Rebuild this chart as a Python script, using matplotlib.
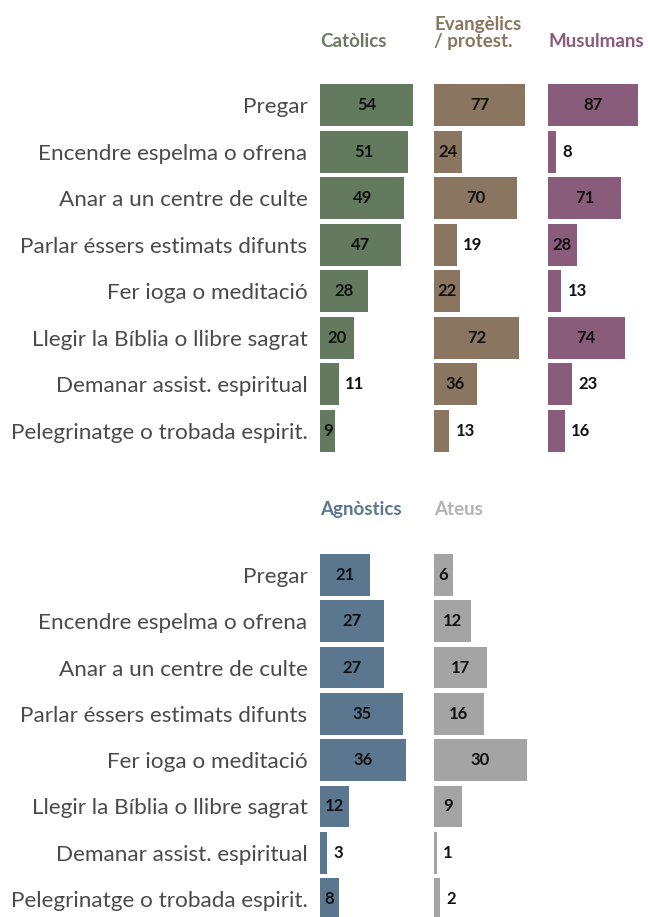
import matplotlib
matplotlib.use("Agg")
import matplotlib.pyplot as plt

# Activitats espirituals per grup (%)
activitats = [
    "Pregar",
    "Encendre espelma o ofrena",
    "Anar a un centre de culte",
    "Parlar éssers estimats difunts",
    "Fer ioga o meditació",
    "Llegir la Bíblia o llibre sagrat",
    "Demanar assist. espiritual",
    "Pelegrinatge o trobada espirit.",
]
catolics = [54, 51, 49, 47, 28, 20, 11, 9]
evangelics = [77, 24, 70, 19, 22, 72, 36, 13]
musulmans = [87, 8, 71, 28, 13, 74, 23, 16]
agnostics = [21, 27, 27, 35, 36, 12, 3, 8]
ateus = [6, 12, 17, 16, 30, 9, 1, 2]

grups = ["Catòlics", "Evangèlics\n/ protest.", "Musulmans", "Agnòstics", "Ateus"]

BAR_COLORS = ["#637a5f", "#8a7560", "#8a5c7c", "#5b7790", "#a4a4a4"]
HEAD_COLORS = ["#6b7a63", "#8a7560", "#8a5c7c", "#5b7790", "#b3b3b3"]
LABEL_COLOR = "#4a4a4a"

plt.rcParams["font.family"] = ["Lato", "DejaVu Sans"]

W, H = 648, 917
fig = plt.figure(figsize=(W / 100, H / 100), dpi=100)

PANEL_W = 100
# (left px, top px, bottom px, xlim max) per panel; each panel has its own scale
panels = [
    (320, 81.7, 454.3, 58.1),
    (434, 81.7, 454.3, 84.4),
    (548, 81.7, 454.3, 96.6),
    (320, 551.8, 922.2, 42.0),
    (434, 551.8, 922.2, 32.3),
]
series = [catolics, evangelics, musulmans, agnostics, ateus]
heads_y = [41, 41, 41, 509, 509]

for i, (vals, (x0, top, bot, xmax)) in enumerate(zip(series, panels)):
    ax = fig.add_axes([x0 / W, 1 - bot / H, PANEL_W / W, (bot - top) / H])
    ypos = list(range(len(activitats)))
    ax.barh(ypos, vals, height=0.9, color=BAR_COLORS[i], linewidth=0)
    ax.set_xlim(0, xmax)
    ax.set_ylim(len(activitats) - 0.5, -0.5)
    for s in ax.spines.values():
        s.set_visible(False)
    ax.set_xticks([])
    if x0 == 320:
        ax.set_yticks(ypos)
        ax.set_yticklabels(activitats, fontsize=16.2, color=LABEL_COLOR)
        ax.tick_params(axis="y", length=0, pad=9)
    else:
        ax.set_yticks([])

    px_per_unit = PANEL_W / xmax
    for y, v in zip(ypos, vals):
        txt = str(v)
        if v * px_per_unit >= len(txt) * 10 + 5:
            ax.text(v / 2, y, txt, ha="center", va="center", fontsize=12,
                    fontweight="bold", color="#111111")
        else:
            ax.annotate(txt, (v, y), xytext=(4.5, 0), textcoords="offset points",
                        ha="left", va="center", fontsize=12,
                        fontweight="bold", color="#111111")

    fig.text(x0 / W, 1 - (heads_y[i] + 6) / H, grups[i], ha="left", va="baseline",
             fontsize=13.5, fontweight="bold", color=HEAD_COLORS[i], linespacing=1.0)

fig.savefig("out.png", dpi=100)
